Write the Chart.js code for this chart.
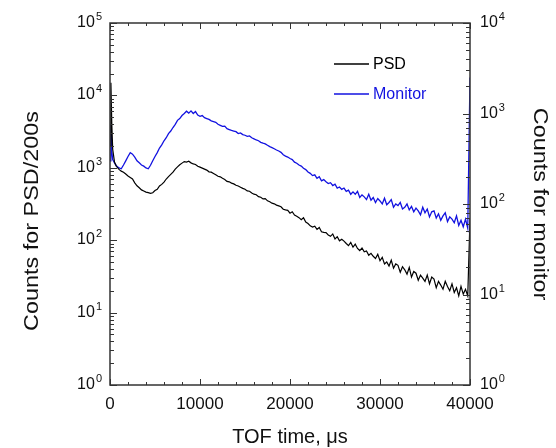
<!DOCTYPE html>
<html>
<head>
<meta charset="utf-8">
<script src="https://cdn.jsdelivr.net/npm/chart.js@4.4.0/dist/chart.umd.min.js"></script>
<style>
  html, body { margin: 0; padding: 0; background: #fff; }
  canvas { display: block; }
</style>
</head>
<body>
<canvas id="chart" width="556" height="448"></canvas>
<script>
// TOF spectrum: PSD counts (left axis) and monitor counts (right axis)

const tofTimes = [
    0, 100, 200, 300, 500, 700,
    1000, 1250, 1500, 1750, 2000, 2250, 2500, 2750, 3000, 3250, 3500, 3750,
    4000, 4250, 4500, 4750, 5000, 5250, 5500, 5750, 6000, 6250, 6500, 6750,
    7000, 7250, 7500, 7750, 8000, 8250, 8500, 8750, 9000, 9250, 9500, 9750,
    10000, 10250, 10500, 10750, 11000, 11250, 11500, 11750, 12000, 12250, 12500, 12750,
    13000, 13250, 13500, 13750, 14000, 14250, 14500, 14750, 15000, 15250, 15500, 15750,
    16000, 16250, 16500, 16750, 17000, 17250, 17500, 17750, 18000, 18250, 18500, 18750,
    19000, 19250, 19500, 19750, 20000, 20250, 20500, 20750, 21000, 21250, 21500, 21750,
    22000, 22250, 22500, 22750, 23000, 23250, 23500, 23750, 24000, 24250, 24500, 24750,
    25000, 25250, 25500, 25750, 26000, 26250, 26500, 26750, 27000, 27250, 27500, 27750,
    28000, 28250, 28500, 28750, 29000, 29250, 29500, 29750, 30000, 30250, 30500, 30750,
    31000, 31250, 31500, 31750, 32000, 32250, 32500, 32750, 33000, 33250, 33500, 33750,
    34000, 34250, 34500, 34750, 35000, 35250, 35500, 35750, 36000, 36250, 36500, 36750,
    37000, 37250, 37500, 37750, 38000, 38250, 38500, 38750, 39000, 39250, 39500, 39750,
    40000
];

const psdCounts = [
    2000, 15000, 4000, 1800, 1200, 1050,
    950, 900, 870, 820, 770, 735, 700, 620, 565, 530, 495, 478,
    462, 455, 445, 452, 485, 505, 560, 590, 635, 700, 755, 810,
    870, 960, 1030, 1100, 1160, 1220, 1200, 1230, 1170, 1130, 1110, 1050,
    1020, 990, 960, 930, 880, 870, 835, 800, 765, 750, 715, 690,
    650, 640, 615, 600, 575, 560, 540, 520, 505, 480, 475, 450,
    432, 425, 400, 392, 372, 376, 350, 340, 325, 318, 305, 298,
    290, 268, 262, 258, 236, 247, 222, 214, 205, 192, 204, 178,
    170, 158, 152, 156, 141, 150, 131, 128, 127, 118, 113, 122,
    104, 112, 98, 103, 97, 90, 84, 93, 80, 88, 77, 72,
    78, 69, 71, 62, 66, 60, 56, 64, 52, 58, 47, 50,
    44, 53, 41, 47, 45, 36, 43, 39, 34, 42, 31, 37,
    35, 28, 33, 30, 27, 33, 25, 31, 29, 22, 27, 24,
    21, 27, 23, 20, 25, 19, 22, 17, 23, 18, 21, 17,
    200
];

const monitorCounts = [
    300, 750, 380, 310, 285, 265,
    250, 245, 270, 300, 335, 370, 355, 330, 300, 285, 270, 262,
    250, 245, 268, 300, 335, 370, 415, 450, 500, 540, 600, 640,
    700, 760, 840, 880, 950, 1000, 1060, 1010, 1070, 1000, 1050, 960,
    930, 950, 900, 880, 860, 830, 815, 800, 760, 740, 720, 725,
    680, 665, 650, 640, 630, 600, 610, 585, 575, 560, 565, 540,
    525, 510, 500, 480, 470, 462, 445, 430, 420, 408, 395, 385,
    372, 350, 338, 330, 318, 310, 290, 282, 270, 262, 248, 240,
    226, 218, 206, 210, 192, 200, 180, 186, 176, 168, 172, 160,
    166, 150, 154, 145, 150, 138, 142, 128, 136, 128, 138, 118,
    126, 120, 112, 128, 110, 118, 104, 115, 108, 100, 116, 98,
    104, 112, 92, 100, 96, 104, 88, 92, 100, 86, 94, 82,
    90, 84, 76, 92, 80, 88, 72, 82, 84, 70, 78, 66,
    74, 80, 64, 72, 68, 62, 74, 58, 66, 56, 68, 54,
    2500
];

const xTickValues = [0, 10000, 20000, 30000, 40000];
const xMinorStep = 2000;
const leftExponents = [0, 1, 2, 3, 4, 5];
const rightExponents = [0, 1, 2, 3, 4];

const FONT = '"Liberation Sans", Arial, Helvetica, sans-serif';
const AXIS_COLOR = '#333';
const BLUE = '#1212e0';

function toPoints(values) {
    return tofTimes.map((t, i) => ({ x: t, y: values[i] }));
}

// draws "10" with a raised exponent
function drawPower(ctx, x, y, exp, align) {
    ctx.font = '16px ' + FONT;
    const w1 = ctx.measureText('10').width;
    ctx.font = '11px ' + FONT;
    const w2 = ctx.measureText(String(exp)).width;
    const start = align === 'right' ? x - (w1 + w2 + 1) : x;
    ctx.textAlign = 'left';
    ctx.textBaseline = 'alphabetic';
    ctx.font = '16px ' + FONT;
    ctx.fillText('10', start, y + 5);
    ctx.font = '11px ' + FONT;
    ctx.fillText(String(exp), start + w1 + 1, y - 2);
}

function drawVerticalTitle(ctx, text, x, y, angle) {
    ctx.save();
    ctx.translate(x, y);
    ctx.rotate(angle);
    ctx.scale(1.17, 1);
    ctx.fillText(text, 0, 0);
    ctx.restore();
}

const framePlugin = {
    id: 'framePlugin',
    afterDraw(chart) {
        const ctx = chart.ctx;
        const a = chart.chartArea;
        const xs = chart.scales.x, ys = chart.scales.y, ys2 = chart.scales.y2;
        ctx.save();

        // box
        ctx.strokeStyle = AXIS_COLOR;
        ctx.lineWidth = 1.5;
        ctx.strokeRect(a.left, a.top, a.right - a.left, a.bottom - a.top);

        // inward ticks
        ctx.lineWidth = 1;
        ctx.beginPath();
        for (let v = xs.min; v <= xs.max; v += xMinorStep) {
            const px = Math.round(xs.getPixelForValue(v)) + 0.5;
            const len = xTickValues.includes(v) ? 6 : 3;
            ctx.moveTo(px, a.bottom); ctx.lineTo(px, a.bottom - len);
            ctx.moveTo(px, a.top); ctx.lineTo(px, a.top + len);
        }
        leftExponents.forEach(e => {
            for (let m = 1; m <= 9; m++) {
                const v = m * Math.pow(10, e);
                if (v > ys.max) break;
                const py = Math.round(ys.getPixelForValue(v)) + 0.5;
                const len = m === 1 ? 7 : 4;
                ctx.moveTo(a.left, py); ctx.lineTo(a.left + len, py);
            }
        });
        rightExponents.forEach(e => {
            for (let m = 1; m <= 9; m++) {
                const v = m * Math.pow(10, e);
                if (v > ys2.max) break;
                const py = Math.round(ys2.getPixelForValue(v)) + 0.5;
                const len = m === 1 ? 7 : 4;
                ctx.moveTo(a.right, py); ctx.lineTo(a.right - len, py);
            }
        });
        ctx.stroke();

        // log tick labels
        ctx.fillStyle = '#111';
        leftExponents.forEach(e => {
            drawPower(ctx, a.left - 8, ys.getPixelForValue(Math.pow(10, e)) - 1, e, 'right');
        });
        rightExponents.forEach(e => {
            drawPower(ctx, a.right + 10, ys2.getPixelForValue(Math.pow(10, e)) - 1, e, 'left');
        });

        // axis titles
        ctx.font = '20px ' + FONT;
        ctx.textAlign = 'center';
        ctx.textBaseline = 'middle';
        ctx.fillText('TOF time, \u03bcs', (a.left + a.right) / 2, 437);
        drawVerticalTitle(ctx, 'Counts for PSD/200s', 32, 221, -Math.PI / 2);
        drawVerticalTitle(ctx, 'Counts for monitor', 540, 204, Math.PI / 2);

        // legend
        ctx.font = '16px ' + FONT;
        ctx.textAlign = 'left';
        chart.data.datasets.forEach((ds, i) => {
            const ly = 64 + i * 30;
            ctx.strokeStyle = ds.borderColor;
            ctx.lineWidth = 1.5;
            ctx.beginPath();
            ctx.moveTo(334, ly); ctx.lineTo(369, ly);
            ctx.stroke();
            ctx.fillStyle = ds.borderColor;
            ctx.fillText(ds.label, 373, ly + 1);
        });

        ctx.restore();
    }
};

new Chart(document.getElementById('chart'), {
    type: 'line',
    data: {
        datasets: [
            {
                label: 'PSD',
                data: toPoints(psdCounts),
                yAxisID: 'y',
                borderColor: '#000',
                borderWidth: 1.2,
                pointRadius: 0,
                tension: 0
            },
            {
                label: 'Monitor',
                data: toPoints(monitorCounts),
                yAxisID: 'y2',
                borderColor: BLUE,
                borderWidth: 1.3,
                pointRadius: 0,
                tension: 0
            }
        ]
    },
    options: {
        responsive: false,
        animation: false,
        layout: { padding: { top: 23, left: 0, right: 0, bottom: 0 } },
        plugins: {
            legend: { display: false },
            tooltip: { enabled: false }
        },
        scales: {
            x: {
                type: 'linear',
                min: 0,
                max: 40000,
                grid: { display: false, drawTicks: false },
                border: { display: false },
                afterBuildTicks: s => { s.ticks = xTickValues.map(v => ({ value: v })); },
                ticks: {
                    autoSkip: false,
                    maxRotation: 0,
                    padding: 9,
                    color: '#111',
                    font: { family: FONT, size: 17 },
                    callback: v => String(v)
                },
                afterFit: s => { s.height = 63; }
            },
            y: {
                type: 'logarithmic',
                position: 'left',
                min: 1,
                max: 100000,
                grid: { display: false, drawTicks: false },
                border: { display: false },
                ticks: { display: false },
                afterFit: s => { s.width = 110; }
            },
            y2: {
                type: 'logarithmic',
                position: 'right',
                min: 1,
                max: 10000,
                grid: { display: false, drawTicks: false },
                border: { display: false },
                ticks: { display: false },
                afterFit: s => { s.width = 86; }
            }
        }
    },
    plugins: [framePlugin]
});
</script>
</body>
</html>
